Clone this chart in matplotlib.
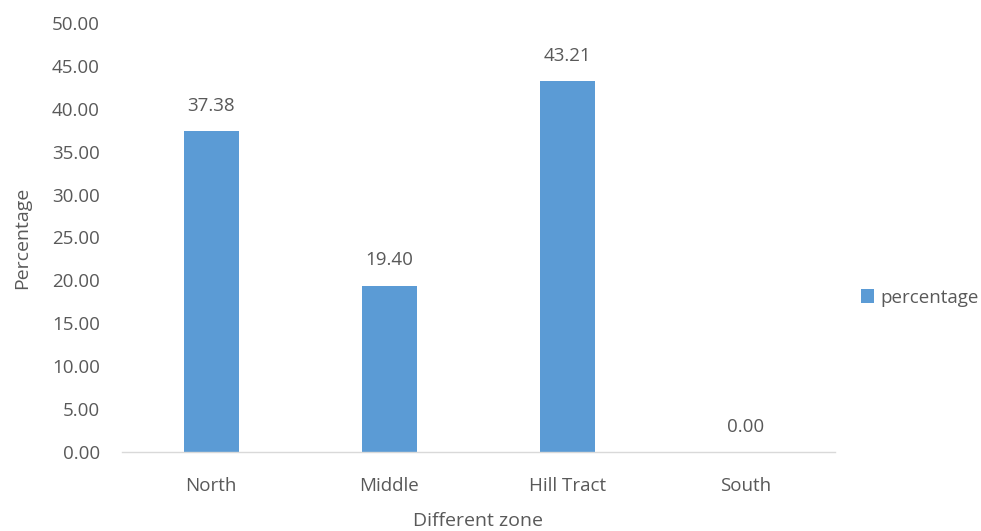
import matplotlib
matplotlib.use('Agg')
import matplotlib.pyplot as plt
import numpy as np

zones = ['North', 'Middle', 'Hill Tract', 'South']
percentage = [37.38, 19.40, 43.21, 0.00]
yticks = [0, 5, 10, 15, 20, 25, 30, 35, 40, 45, 50]

bar_color = '#5B9BD5'
text_color = '#595959'

plt.rcParams['font.family'] = ['Open Sans', 'DejaVu Sans']

fig = plt.figure(figsize=(9.81, 5.31), dpi=100)
ax = fig.add_axes([0.1244, 0.1488, 0.7267, 0.8079])

x = np.arange(len(zones))
bars = ax.bar(x, percentage, width=0.31, color=bar_color, label='percentage', zorder=2)

for xi, v in zip(x, percentage):
    ax.text(xi, v + 1.9, '%.2f' % v, ha='center', va='bottom', fontsize=13.5, color=text_color)

ax.set_xlim(-0.5, 3.5)
ax.set_ylim(0, 50)
ax.set_yticks(yticks)
ax.set_yticklabels(['%.2f' % t for t in yticks])
ax.set_xticks(x)
ax.set_xticklabels(zones)
ax.tick_params(axis='both', length=0, labelsize=13.5, labelcolor=text_color)
ax.tick_params(axis='y', pad=16)
ax.tick_params(axis='x', pad=18)

for s in ['top', 'right', 'left']:
    ax.spines[s].set_visible(False)
ax.spines['bottom'].set_color('#D9D9D9')
ax.spines['bottom'].set_linewidth(1)

ax.set_ylabel('Percentage', fontsize=14, color=text_color, labelpad=15)
ax.set_xlabel('Different zone', fontsize=14, color=text_color, labelpad=12)

ax.legend(loc='center left', bbox_to_anchor=(1.0, 0.36), frameon=False,
          fontsize=13.5, labelcolor=text_color, handlelength=0.7, handleheight=0.7,
          handletextpad=0.3, borderaxespad=1.0)

plt.savefig('out.png', dpi=100)
